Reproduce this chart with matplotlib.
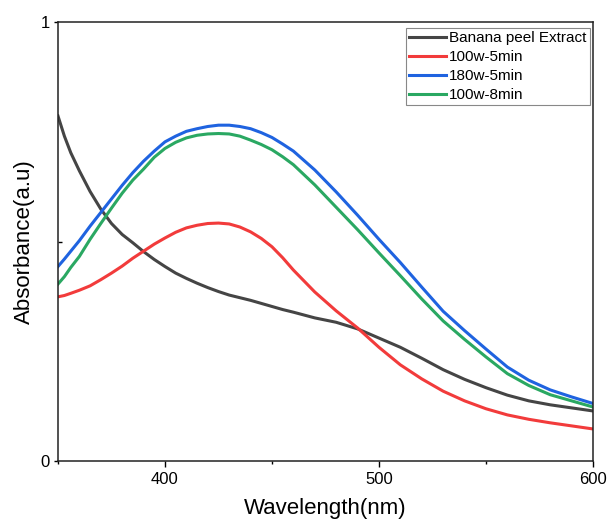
import matplotlib
matplotlib.use("Agg")
import matplotlib.pyplot as plt
from matplotlib.ticker import FixedLocator

plt.rcParams['font.family'] = ['Liberation Sans', 'DejaVu Sans']

wavelength = [350, 353, 356, 360, 365, 370, 375, 380, 385, 390, 395, 400, 405, 410, 415,
              420, 425, 430, 435, 440, 445, 450, 455, 460, 470, 480, 490, 500, 510, 520,
              530, 540, 550, 560, 570, 580, 590, 600]

banana_peel = [0.786, 0.740, 0.702, 0.661, 0.614, 0.574, 0.541, 0.516, 0.497, 0.477, 0.459,
               0.443, 0.428, 0.416, 0.405, 0.395, 0.386, 0.378, 0.372, 0.366, 0.359,
               0.352, 0.345, 0.339, 0.326, 0.316, 0.301, 0.280, 0.259, 0.234, 0.208,
               0.186, 0.167, 0.150, 0.137, 0.128, 0.121, 0.114]
w100_5min = [0.374, 0.377, 0.382, 0.389, 0.399, 0.413, 0.428, 0.444, 0.462, 0.478, 0.494,
             0.508, 0.521, 0.531, 0.537, 0.541, 0.542, 0.540, 0.533, 0.522, 0.507,
             0.488, 0.463, 0.435, 0.385, 0.342, 0.303, 0.259, 0.219, 0.187, 0.159,
             0.137, 0.119, 0.105, 0.095, 0.087, 0.080, 0.073]
w180_5min = [0.443, 0.460, 0.478, 0.502, 0.535, 0.566, 0.597, 0.628, 0.657, 0.683, 0.706,
             0.727, 0.740, 0.751, 0.757, 0.762, 0.765, 0.765, 0.762, 0.757, 0.748,
             0.737, 0.722, 0.706, 0.663, 0.613, 0.560, 0.505, 0.452, 0.396, 0.341,
             0.297, 0.255, 0.214, 0.184, 0.162, 0.146, 0.131]
w100_8min = [0.403, 0.420, 0.441, 0.466, 0.505, 0.541, 0.576, 0.610, 0.640, 0.665, 0.692,
             0.712, 0.726, 0.736, 0.742, 0.745, 0.746, 0.745, 0.740, 0.731, 0.721,
             0.709, 0.693, 0.675, 0.629, 0.578, 0.527, 0.474, 0.422, 0.369, 0.319,
             0.277, 0.237, 0.199, 0.172, 0.151, 0.137, 0.123]

labels = ["Banana peel Extract", "100w-5min", "180w-5min", "100w-8min"]
colors = ["#454545", "#f23b3b", "#1f63e0", "#2aa862"]

fig = plt.figure(figsize=(6.09, 5.28), dpi=100)
ax = fig.add_axes([0.0952, 0.1269, 0.8785, 0.8314])

for y, lab, c in zip([banana_peel, w100_5min, w180_5min, w100_8min], labels, colors):
    ax.plot(wavelength, y, color=c, lw=2.2, label=lab, solid_joinstyle='round')

ax.set_xlim(350, 600)
ax.set_ylim(0, 1)
ax.set_xticks([400, 500, 600])
ax.xaxis.set_minor_locator(FixedLocator([350, 450, 550]))
ax.set_yticks([0, 1])
ax.set_yticklabels(["0", "1"])
ax.yaxis.set_minor_locator(FixedLocator([0.5]))
ax.tick_params(axis='x', which='major', direction='out', length=4, width=1, labelsize=12, pad=4)
ax.tick_params(axis='x', which='minor', direction='out', length=2.5, width=1)
ax.tick_params(axis='y', which='major', direction='out', length=3, width=1, labelsize=12, pad=3)
ax.tick_params(axis='y', which='minor', direction='in', length=3, width=1)
for s in ax.spines.values():
    s.set_linewidth(1.1)
    s.set_color("#222222")

ax.set_xlabel("Wavelength(nm)", fontsize=16, labelpad=8)
ax.set_ylabel("Absorbance(a.u)", fontsize=16, labelpad=4)

leg = ax.legend(loc='upper right', bbox_to_anchor=(0.9938, 0.9863), fontsize=11,
                frameon=True, fancybox=False, edgecolor="#888888", framealpha=1,
                borderaxespad=0.0, handlelength=2.4, handletextpad=0.22,
                labelspacing=0.33, borderpad=0.2)
leg.get_frame().set_linewidth(0.8)

fig.savefig("out.png", dpi=100)
